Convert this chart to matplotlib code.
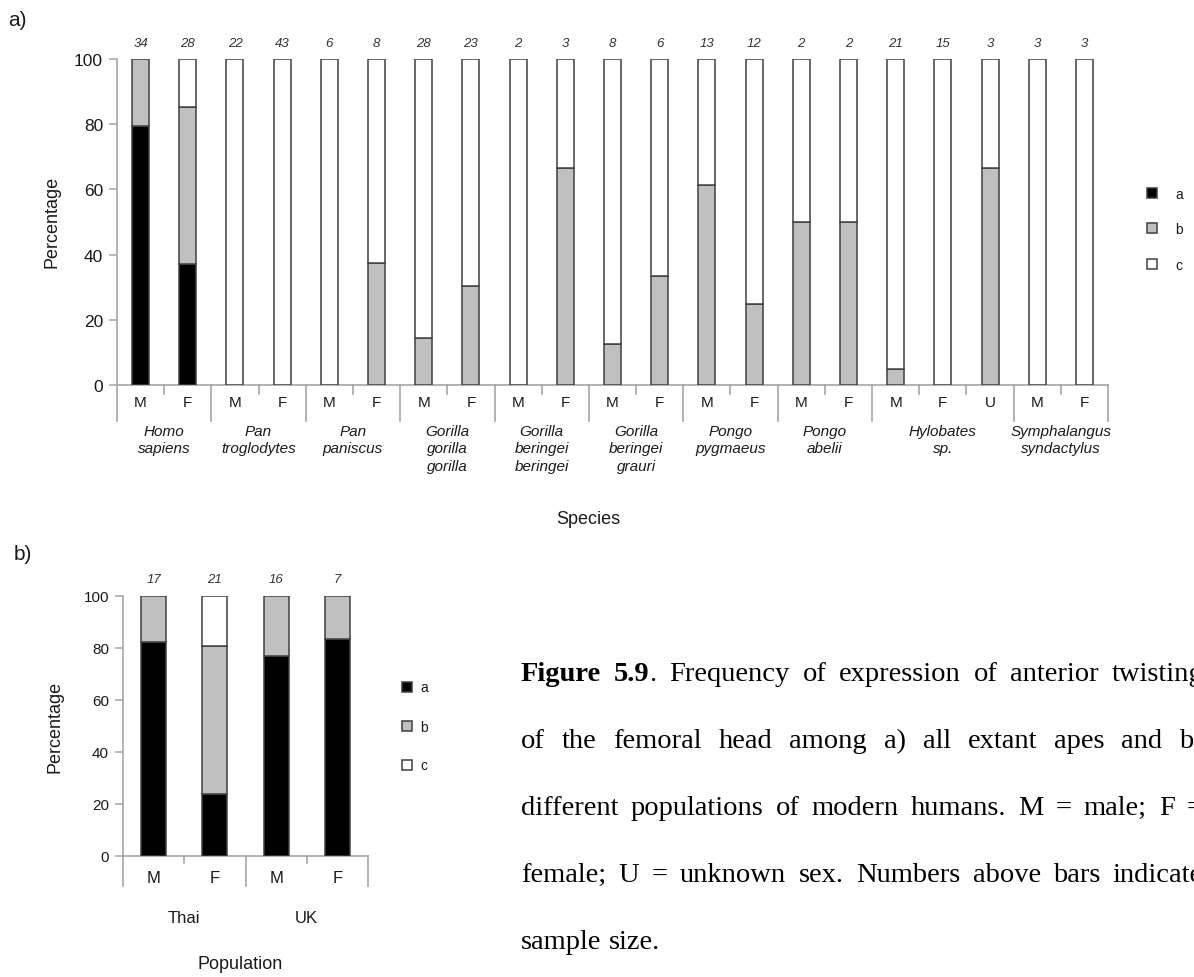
import matplotlib
matplotlib.use("Agg")
import matplotlib.pyplot as plt
from matplotlib.transforms import blended_transform_factory

# ---------------- data ----------------
species = ["Homo\nsapiens", "Pan\ntroglodytes", "Pan\npaniscus",
           "Gorilla\ngorilla\ngorilla", "Gorilla\nberingei\nberingei",
           "Gorilla\nberingei\ngrauri", "Pongo\npygmaeus", "Pongo\nabelii",
           "Hylobates\nsp.", "Symphalangus\nsyndactylus"]
sexes_a = [["M", "F"], ["M", "F"], ["M", "F"], ["M", "F"], ["M", "F"],
           ["M", "F"], ["M", "F"], ["M", "F"], ["M", "F", "U"], ["M", "F"]]
n_a = [34, 28, 22, 43, 6, 8, 28, 23, 2, 3, 8, 6, 13, 12, 2, 2, 21, 15, 3, 3, 3]
a_a = [79.4, 37.0, 0, 0, 0, 0, 0, 0, 0, 0, 0, 0, 0, 0, 0, 0, 0, 0, 0, 0, 0]
b_a = [20.6, 48.2, 0, 0, 0, 37.5, 14.3, 30.4, 0, 66.7, 12.5, 33.3, 61.5, 25.0,
       50.0, 50.0, 4.8, 0, 66.7, 0, 0]
c_a = [0, 14.8, 100, 100, 100, 62.5, 85.7, 69.6, 100, 33.3, 87.5, 66.7, 38.5,
       75.0, 50.0, 50.0, 95.2, 100, 33.3, 100, 100]

populations = ["Thai", "UK"]
sexes_b = [["M", "F"], ["M", "F"]]
n_b = [17, 21, 16, 7]
a_b = [82.4, 23.8, 76.9, 83.3]
b_b = [17.6, 57.1, 23.1, 16.7]
c_b = [0, 19.1, 0, 0]

categories = ["a", "b", "c"]
yticks = [0, 20, 40, 60, 80, 100]

# ---------------- style ----------------
W, H = 1194, 978
fig = plt.figure(figsize=(W / 100, H / 100), dpi=100)
plt.rcParams["font.family"] = ["Liberation Sans", "DejaVu Sans"]

AXC = "#a6a6a6"
EDGE = "#404040"
FILLS = ["#000000", "#c0c0c0", "#ffffff"]
TXT = "#1a1a1a"


def add_axes_px(l, t, r, b):
    return fig.add_axes([l / W, 1 - b / H, (r - l) / W, (b - t) / H])


def stacked_panel(ax, groups, sexes, n, A, B, C, width, tick_fs, sex_fs,
                  grp_fs, n_fs, grp_style, short_px, long_px, sex_y_px,
                  grp_y_px, n_y_px, ax_h_px, grp_linesp):
    xs = list(range(len(n)))
    bars = []
    bottom = [0.0] * len(n)
    for vals, col, lab in zip([A, B, C], FILLS, categories):
        idx = [i for i in xs if vals[i] > 0]
        b = ax.bar([xs[i] for i in idx], [vals[i] for i in idx], width=width,
                   bottom=[bottom[i] for i in idx], color=col,
                   edgecolor=EDGE, linewidth=1.1, label=lab, zorder=3)
        bars.append(b)
        bottom = [bo + max(v, 0) for bo, v in zip(bottom, vals)]
    ax.set_xlim(-0.5, len(n) - 0.5)
    ax.set_ylim(0, 100)
    ax.set_yticks(yticks)
    ax.set_xticks([])
    for s in ["top", "right"]:
        ax.spines[s].set_visible(False)
    for s in ["left", "bottom"]:
        ax.spines[s].set_color(AXC)
        ax.spines[s].set_linewidth(1.2)
    ax.tick_params(axis="y", direction="out", length=6, width=1.1,
                   color=AXC, labelsize=tick_fs, labelcolor=TXT, pad=4)
    trans = blended_transform_factory(ax.transData, ax.transAxes)
    # sample sizes
    for x, nn in zip(xs, n):
        ax.text(x, 1 + n_y_px / ax_h_px, str(nn), transform=trans,
                ha="center", va="center", fontsize=n_fs, style="italic",
                color="#333333")
    # category axis separators and labels
    pos = 0
    ax.plot([-0.5, -0.5], [0, -long_px / ax_h_px], transform=trans,
            color=AXC, lw=1.2, clip_on=False)
    for g, sx in zip(groups, sexes):
        start = pos
        for k, s in enumerate(sx):
            ax.text(pos, -sex_y_px / ax_h_px, s, transform=trans,
                    ha="center", va="center", fontsize=sex_fs, color=TXT)
            if k > 0:
                ax.plot([pos - 0.5, pos - 0.5], [0, -short_px / ax_h_px],
                        transform=trans, color=AXC, lw=1.2, clip_on=False)
            pos += 1
        ax.plot([pos - 0.5, pos - 0.5], [0, -long_px / ax_h_px],
                transform=trans, color=AXC, lw=1.2, clip_on=False)
        ax.text((start + pos - 1) / 2, -grp_y_px / ax_h_px, g,
                transform=trans, ha="center", va="top", fontsize=grp_fs,
                style=grp_style, color=TXT, linespacing=grp_linesp)
    return bars


# ---------------- panel a ----------------
axa = add_axes_px(117, 60, 1108, 386)
bars_a = stacked_panel(axa, species, sexes_a, n_a, a_a, b_a, c_a,
                       width=0.36, tick_fs=12.5, sex_fs=11, grp_fs=11,
                       n_fs=9.5, grp_style="italic", short_px=9, long_px=36,
                       sex_y_px=17, grp_y_px=39, n_y_px=16, ax_h_px=326,
                       grp_linesp=1.3)
fig.text(52 / W, 1 - 222 / H, "Percentage", rotation=90, ha="center",
         va="center", fontsize=13, color=TXT)
fig.text(588 / W, 1 - 519 / H, "Species", ha="center", va="center",
         fontsize=13, color=TXT)
fig.text(8 / W, 1 - 20 / H, "a)", ha="left", va="center", fontsize=15,
         color=TXT)
axa.legend(handles=[b for b in bars_a], labels=categories, loc="upper left",
           bbox_to_anchor=(1134 / W, 1 - 175 / H),
           bbox_transform=fig.transFigure, frameon=False, fontsize=10,
           handlelength=0.75, handleheight=0.75, handletextpad=1.3,
           labelspacing=1.55, labelcolor=TXT)

# ---------------- panel b ----------------
axb = add_axes_px(123, 597, 368, 857)
bars_b = stacked_panel(axb, populations, sexes_b, n_b, a_b, b_b, c_b,
                       width=0.41, tick_fs=11, sex_fs=12, grp_fs=12,
                       n_fs=9.5, grp_style="normal", short_px=7, long_px=30,
                       sex_y_px=22, grp_y_px=54, n_y_px=17, ax_h_px=260,
                       grp_linesp=1.2)
fig.text(55 / W, 1 - 727 / H, "Percentage", rotation=90, ha="center",
         va="center", fontsize=13, color=TXT)
fig.text(240 / W, 1 - 965 / H, "Population", ha="center", va="center",
         fontsize=13, color=TXT)
fig.text(14 / W, 1 - 555 / H, "b)", ha="left", va="center", fontsize=15,
         color=TXT)
axb.legend(handles=[b for b in bars_b], labels=categories, loc="upper left",
           bbox_to_anchor=(389 / W, 1 - 669 / H),
           bbox_transform=fig.transFigure, frameon=False, fontsize=10,
           handlelength=0.75, handleheight=0.75, handletextpad=0.6,
           labelspacing=1.8, labelcolor=TXT)

# ---------------- caption (justified) ----------------
cap_font = ["Liberation Serif", "DejaVu Serif"]
cap_fs = 20.5
cap_lines = [
    [[("Figure", "bold")], [("5.9", "bold"), (".", "normal")], "Frequency",
     "of", "expression", "of", "anterior", "twisting"],
    ["of", "the", "femoral", "head", "among", "a)", "all", "extant", "apes",
     "and", "b)"],
    ["different", "populations", "of", "modern", "humans.", "M", "=",
     "male;", "F", "="],
    ["female;", "U", "=", "unknown", "sex.", "Numbers", "above", "bars",
     "indicate"],
    ["sample", "size."],
]
cap_baselines = [681, 748, 815, 882, 949]
cap_left, cap_right = 521, 1203
justify = [True, True, True, True, False]

renderer = fig.canvas.get_renderer()


def seg_width(txt, weight):
    t = fig.text(0, 0, txt, fontsize=cap_fs, family=cap_font,
                 weight=weight)
    w = t.get_window_extent(renderer=renderer).width
    t.remove()
    return w


for words, yb, just in zip(cap_lines, cap_baselines, justify):
    segs = []
    for w in words:
        if isinstance(w, str):
            w = [(w, "normal")]
        segs.append([(s, wt, seg_width(s, wt)) for s, wt in w])
    widths = [sum(s[2] for s in ws) for ws in segs]
    if just:
        gap = (cap_right - cap_left - sum(widths)) / (len(segs) - 1)
    else:
        gap = seg_width(" ", "normal")
    x = cap_left
    for ws, wtot in zip(segs, widths):
        xx = x
        for s, wt, sw in ws:
            fig.text(xx / W, 1 - yb / H, s, fontsize=cap_fs, family=cap_font,
                     weight=wt, ha="left", va="baseline", color="#000000")
            xx += sw
        x += wtot + gap

fig.savefig("out.png", dpi=100, facecolor="white")
